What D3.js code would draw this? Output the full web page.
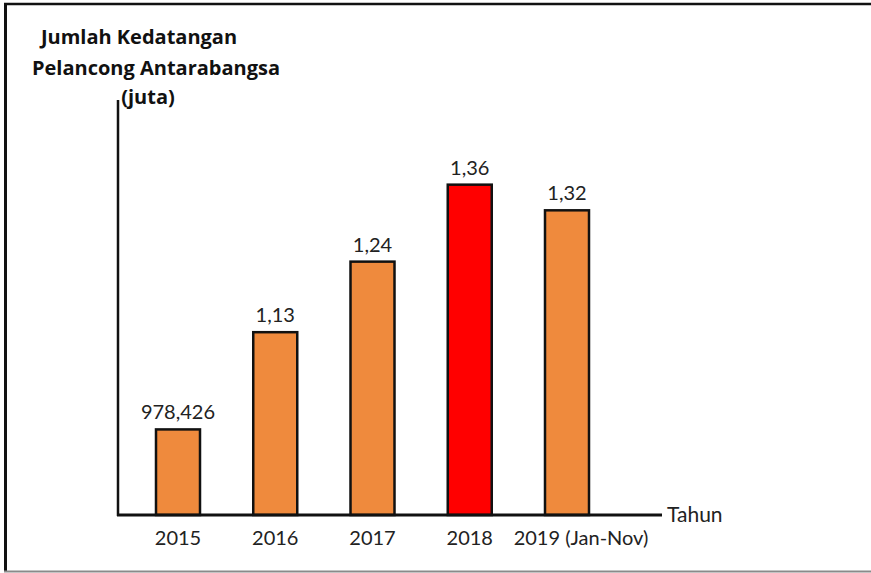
<!DOCTYPE html>
<html>
<head>
<meta charset="utf-8">
<script src="https://cdn.jsdelivr.net/npm/d3@7"></script>
<style>
  body { margin: 0; background: #fff; }
  svg { display: block; }
</style>
</head>
<body>
<svg id="chart" width="871" height="573"></svg>
<script>
// Chart data
const YEARS = ["2015", "2016", "2017", "2018", "2019 (Jan-Nov)"];
const VALUES = [0.978426, 1.13, 1.24, 1.36, 1.32];  // juta
const VALUE_LABELS = ["978,426", "1,13", "1,24", "1,36", "1,32"];
const HIGHLIGHT = "2018";
const TITLE_LINES = ["Jumlah Kedatangan", "Pelancong Antarabangsa", "(juta)"];
const X_TITLE = "Tahun";

const ORANGE = "#EF8A3D";
const RED = "#FF0000";
const FONT = "Lato, 'Open Sans', sans-serif";
const TITLE_FONT = "'Open Sans', Lato, sans-serif";

const svg = d3.select("#chart");

// Outer frame (left, top, bottom)
svg.append("line").attr("x1", 5.5).attr("x2", 5.5).attr("y1", 3).attr("y2", 572)
    .attr("stroke", "#111").attr("stroke-width", 3);
svg.append("line").attr("x1", 4).attr("x2", 871).attr("y1", 4).attr("y2", 4)
    .attr("stroke", "#111").attr("stroke-width", 2.5);
svg.append("line").attr("x1", 4).attr("x2", 871).attr("y1", 571.5).attr("y2", 571.5)
    .attr("stroke", "#8a8a8a").attr("stroke-width", 2);

// Scales
const baseY = 515;
const x = d3.scalePoint().domain(YEARS).range([178, 567]);
const y = d3.scaleLinear().domain([0.845, 1.4]).range([baseY, 159]);
const barWidth = 44;

// Bars
const data = YEARS.map((yr, i) => ({ year: yr, value: VALUES[i], label: VALUE_LABELS[i] }));

svg.append("g")
    .selectAll("rect")
    .data(data)
    .enter()
    .append("rect")
    .attr("x", d => x(d.year) - barWidth / 2)
    .attr("y", d => y(d.value))
    .attr("width", barWidth)
    .attr("height", d => baseY - y(d.value))
    .attr("fill", d => d.year === HIGHLIGHT ? RED : ORANGE)
    .attr("stroke", "#111")
    .attr("stroke-width", 2.5);

// Value labels
svg.append("g")
    .selectAll("text")
    .data(data)
    .enter()
    .append("text")
    .attr("x", d => x(d.year))
    .attr("y", d => y(d.value) - 10)
    .attr("text-anchor", "middle")
    .attr("font-family", FONT)
    .attr("font-size", 20)
    .attr("fill", "#222")
    .text(d => d.label);

// Axes lines
svg.append("line").attr("x1", 118).attr("x2", 118).attr("y1", 100).attr("y2", baseY + 1)
    .attr("stroke", "#111").attr("stroke-width", 2.5);
svg.append("line").attr("x1", 117).attr("x2", 662).attr("y1", baseY).attr("y2", baseY)
    .attr("stroke", "#111").attr("stroke-width", 3);

// Category labels
svg.append("g")
    .selectAll("text")
    .data(YEARS)
    .enter()
    .append("text")
    .attr("x", d => x(d) + (d.length > 4 ? 14 : 0))
    .attr("y", 545)
    .attr("text-anchor", "middle")
    .attr("font-family", FONT)
    .attr("font-size", 20)
    .attr("fill", "#222")
    .text(d => d);

// Axis titles
svg.append("text")
    .attr("x", 667).attr("y", 522)
    .attr("font-family", FONT)
    .attr("font-size", 21)
    .attr("fill", "#222")
    .text(X_TITLE);

const titleX = [139, 156, 148];
const titleY = [44, 75, 104];
TITLE_LINES.forEach((t, i) => {
    svg.append("text")
        .attr("x", titleX[i]).attr("y", titleY[i])
        .attr("text-anchor", "middle")
        .attr("font-family", TITLE_FONT)
        .attr("font-weight", "bold")
        .attr("font-size", 20)
        .attr("fill", "#111")
        .text(t);
});
</script>
</body>
</html>
